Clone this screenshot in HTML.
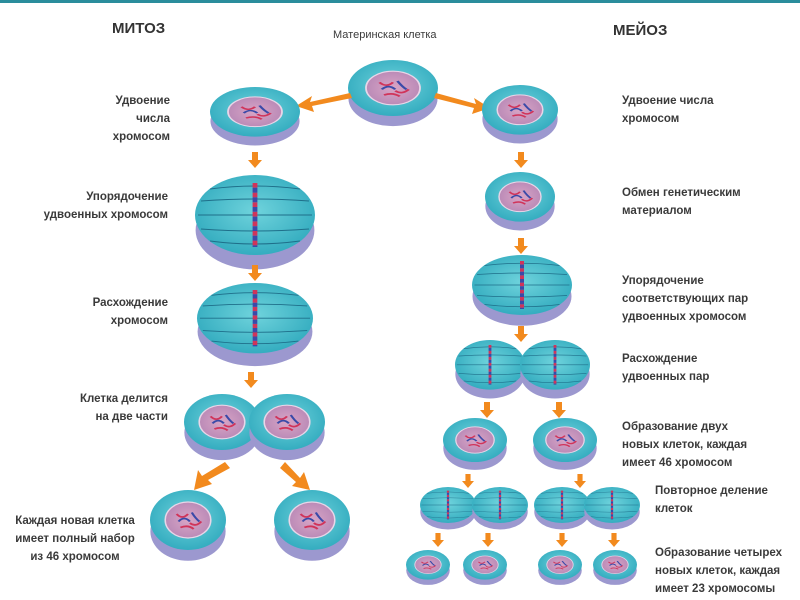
<!DOCTYPE html><html><head><meta charset="utf-8"><style>
body{margin:0;background:#fff}
svg{display:block}
text{font-family:"Liberation Sans",sans-serif;font-weight:bold;fill:#3a3a3a;font-size:11.5px}
</style></head><body>
<svg width="800" height="600" viewBox="0 0 800 600">
<defs>
<radialGradient id="tg" cx="0.5" cy="0.45" r="0.6"><stop offset="0" stop-color="#6fd3dc"/><stop offset="1" stop-color="#2fa9bd"/></radialGradient>
<radialGradient id="ng" cx="0.5" cy="0.5" r="0.6"><stop offset="0" stop-color="#d9a6c6"/><stop offset="1" stop-color="#b585b4"/></radialGradient>
<symbol id="c" viewBox="-1 -1 2 2.5" overflow="visible" preserveAspectRatio="none">
<ellipse cx="0" cy="0.38" rx="0.99" ry="0.98" fill="#9c98cf"/>
<ellipse cx="0" cy="0" rx="1" ry="1" fill="url(#tg)"/>
<ellipse cx="0" cy="0" rx="0.6" ry="0.6" fill="url(#ng)" stroke="#e8d6e8" stroke-width="0.04"/>
<path d="M-0.3,-0.2 q0.15,0.2 0.3,0 M0.05,0.1 q0.15,0.15 0.3,-0.05 M-0.2,0.25 q0.2,-0.1 0.35,0.05" stroke="#d0345a" stroke-width="0.06" fill="none"/>
<path d="M-0.25,0.05 q0.15,-0.2 0.3,0 M0.1,-0.25 q0.1,0.2 0.2,0.3" stroke="#3a4aa8" stroke-width="0.06" fill="none"/>
</symbol>
<symbol id="s" viewBox="-1 -1 2 2.5" overflow="visible" preserveAspectRatio="none">
<ellipse cx="0" cy="0.38" rx="0.99" ry="0.98" fill="#9c98cf"/>
<ellipse cx="0" cy="0" rx="1" ry="1" fill="url(#tg)"/>
<path d="M-0.95,0 H0.95 M-0.9,-0.35 Q0,-0.45 0.9,-0.35 M-0.9,0.35 Q0,0.45 0.9,0.35 M-0.75,-0.65 Q0,-0.8 0.75,-0.65 M-0.75,0.65 Q0,0.8 0.75,0.65" stroke="#1f6f8a" stroke-width="0.025" fill="none"/>
<path d="M0,-0.8 V0.8" stroke="#d0345a" stroke-width="0.08" stroke-dasharray="0.12 0.12"/>
<path d="M0,-0.68 V0.8" stroke="#3a4aa8" stroke-width="0.08" stroke-dasharray="0.12 0.12"/>
</symbol>
<symbol id="a" viewBox="0 0 14 16" overflow="visible" preserveAspectRatio="none"><polygon points="4,0 10,0 10,8 14,8 7,16 0,8 4,8" fill="#f28a1e"/></symbol>
</defs>
<rect x="0" y="0" width="800" height="3" fill="#2a8d9c"/>
<text x="112" y="33" style="font-size:15px;fill:#333">МИТОЗ</text>
<text x="613" y="35" style="font-size:15px;fill:#333">МЕЙОЗ</text>
<text x="333" y="38" style="font-weight:normal;font-size:11px">Материнская клетка</text>

<use href="#c" x="-45" y="-28" width="90" height="70" transform="translate(393,88)"/>
<polygon points="350,93 310,102 312,96 296,106 314,112 312,106 352,98" fill="#f28a1e"/>
<polygon points="436,93 476,104 474,98 490,108 472,114 474,108 434,98" fill="#f28a1e"/>

<use href="#c" x="-45" y="-25" width="90" height="62" transform="translate(255,112)"/>
<use href="#a" x="248" y="152" width="14" height="16"/>
<use href="#s" x="-60" y="-40" width="120" height="100" transform="translate(255,215)"/>
<use href="#a" x="248" y="265" width="14" height="16"/>
<use href="#s" x="-58" y="-35" width="116" height="88" transform="translate(255,318)"/>
<use href="#a" x="244" y="372" width="14" height="16"/>
<use href="#c" x="-38" y="-28" width="76" height="70" transform="translate(222,422)"/>
<use href="#c" x="-38" y="-28" width="76" height="70" transform="translate(287,422)"/>
<polygon points="225,462 202,476 198,470 194,490 212,484 208,480 230,468" fill="#f28a1e"/>
<polygon points="285,462 300,478 304,472 310,490 292,486 296,482 280,468" fill="#f28a1e"/>
<use href="#c" x="-38" y="-30" width="76" height="75" transform="translate(188,520)"/>
<use href="#c" x="-38" y="-30" width="76" height="75" transform="translate(312,520)"/>

<use href="#c" x="-38" y="-25" width="76" height="62" transform="translate(520,110)"/>
<use href="#a" x="514" y="152" width="14" height="16"/>
<use href="#c" x="-35" y="-25" width="70" height="62" transform="translate(520,197)"/>
<use href="#a" x="514" y="238" width="14" height="16"/>
<use href="#s" x="-50" y="-30" width="100" height="75" transform="translate(522,285)"/>
<use href="#a" x="514" y="326" width="14" height="16"/>
<use href="#s" x="-35" y="-25" width="70" height="62" transform="translate(490,365)"/>
<use href="#s" x="-35" y="-25" width="70" height="62" transform="translate(555,365)"/>
<use href="#a" x="480" y="402" width="14" height="16"/>
<use href="#a" x="552" y="402" width="14" height="16"/>
<use href="#c" x="-32" y="-22" width="64" height="55" transform="translate(475,440)"/>
<use href="#c" x="-32" y="-22" width="64" height="55" transform="translate(565,440)"/>
<use href="#a" x="462" y="474" width="12" height="14"/>
<use href="#a" x="574" y="474" width="12" height="14"/>
<use href="#s" x="-28" y="-18" width="56" height="45" transform="translate(448,505)"/>
<use href="#s" x="-28" y="-18" width="56" height="45" transform="translate(500,505)"/>
<use href="#s" x="-28" y="-18" width="56" height="45" transform="translate(562,505)"/>
<use href="#s" x="-28" y="-18" width="56" height="45" transform="translate(612,505)"/>
<use href="#a" x="432" y="533" width="12" height="14"/>
<use href="#a" x="482" y="533" width="12" height="14"/>
<use href="#a" x="556" y="533" width="12" height="14"/>
<use href="#a" x="608" y="533" width="12" height="14"/>
<use href="#c" x="-22" y="-15" width="44" height="37" transform="translate(428,565)"/>
<use href="#c" x="-22" y="-15" width="44" height="37" transform="translate(485,565)"/>
<use href="#c" x="-22" y="-15" width="44" height="37" transform="translate(560,565)"/>
<use href="#c" x="-22" y="-15" width="44" height="37" transform="translate(615,565)"/>

<g text-anchor="end">
<text x="170" y="104">Удвоение</text><text x="170" y="122">числа</text><text x="170" y="140">хромосом</text>
<text x="168" y="200">Упорядочение</text><text x="168" y="218">удвоенных хромосом</text>
<text x="168" y="306">Расхождение</text><text x="168" y="324">хромосом</text>
<text x="168" y="402">Клетка делится</text><text x="168" y="420">на две части</text>
</g>
<g text-anchor="middle">
<text x="75" y="524">Каждая новая клетка</text><text x="75" y="542">имеет полный набор</text><text x="75" y="560">из 46 хромосом</text>
</g>
<text x="622" y="104">Удвоение числа</text><text x="622" y="122">хромосом</text>
<text x="622" y="196">Обмен генетическим</text><text x="622" y="214">материалом</text>
<text x="622" y="284">Упорядочение</text><text x="622" y="302">соответствующих пар</text><text x="622" y="320">удвоенных хромосом</text>
<text x="622" y="362">Расхождение</text><text x="622" y="380">удвоенных пар</text>
<text x="622" y="430">Образование двух</text><text x="622" y="448">новых клеток, каждая</text><text x="622" y="466">имеет 46 хромосом</text>
<text x="655" y="494">Повторное деление</text><text x="655" y="512">клеток</text>
<text x="655" y="556">Образование четырех</text><text x="655" y="574">новых клеток, каждая</text><text x="655" y="592">имеет 23 хромосомы</text>
</svg>
</body></html>
